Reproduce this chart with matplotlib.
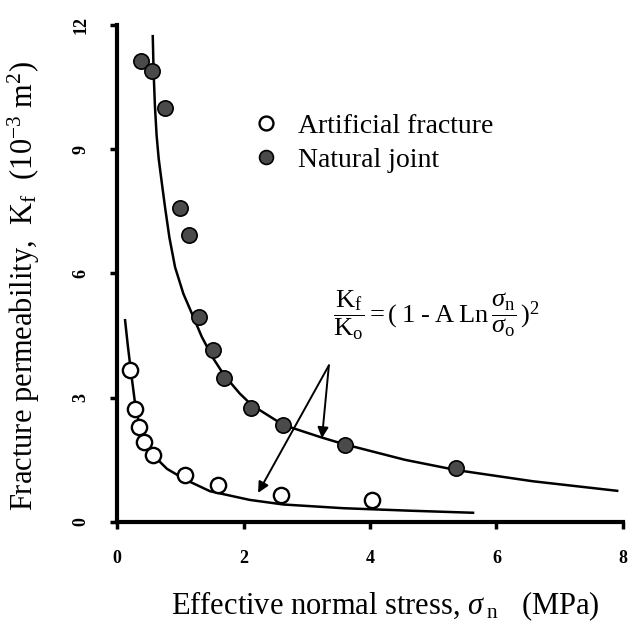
import numpy as np
import matplotlib
matplotlib.use('Agg')
from matplotlib import pyplot as plt
from matplotlib.lines import Line2D

plt.rcParams['font.family'] = ['Liberation Serif', 'DejaVu Serif']
plt.rcParams['mathtext.fontset'] = 'custom'
plt.rcParams['mathtext.rm'] = 'Liberation Serif'
plt.rcParams['mathtext.it'] = 'Liberation Serif:italic'

art_x = [0.21, 0.28, 0.35, 0.43, 0.57, 1.08, 1.60, 2.59, 4.03]
art_y = [3.66, 2.72, 2.29, 1.93, 1.61, 1.13, 0.89, 0.65, 0.53]

nat_x = [0.38, 0.55, 0.76, 1.00, 1.14, 1.30, 1.52, 1.69, 2.12, 2.62, 3.60, 5.36]
nat_y = [11.13, 10.89, 9.99, 7.57, 6.92, 4.96, 4.14, 3.47, 2.75, 2.34, 1.86, 1.30]

# fitted curves
art_fit_x = [0.126, 0.17, 0.22, 0.285, 0.36, 0.47, 0.57, 0.79, 1.08, 1.47, 2.10, 2.63, 3.58, 4.63, 5.63]
art_fit_y = [4.87, 4.25, 3.62, 2.85, 2.28, 1.88, 1.61, 1.28, 1.02, 0.74, 0.53, 0.42, 0.33, 0.27, 0.22]

nat_fit_x = [0.564, 0.577, 0.598, 0.625, 0.658, 0.707, 0.759, 0.827, 0.917, 1.048, 1.206, 1.339, 1.52, 1.69,
             1.94, 2.13, 2.63, 3.21, 3.58, 4.55, 5.37, 6.58, 7.91]
nat_fit_y = [11.73, 10.89, 10.05, 9.33, 8.77, 8.19, 7.59, 6.87, 6.15, 5.51, 4.95, 4.47, 3.95, 3.55,
             3.10, 2.82, 2.34, 2.05, 1.88, 1.50, 1.25, 0.98, 0.75]

x_ticks = [0, 2, 4, 6, 8]
y_ticks = [0, 3, 6, 9, 12]

fig = plt.figure(figsize=(6.33, 6.25), dpi=100)
ax = fig.add_axes([0.185, 0.165, 0.799, 0.795])

ax.plot(nat_fit_x, nat_fit_y, color='black', lw=1.8, zorder=2, solid_joinstyle='round')
ax.plot(art_fit_x, art_fit_y, color='black', lw=1.8, zorder=2, solid_joinstyle='round')

ax.plot(nat_x, nat_y, 'o', ms=11, mfc='#4a4a4a', mec='black', mew=1.2, zorder=3)
ax.plot(art_x, art_y, 'o', ms=11, mfc='white', mec='black', mew=1.7, zorder=3)

# arrows from the equation to the two curves
ax.annotate('', xy=(2.23, 0.70), xytext=(3.35, 3.78),
            arrowprops=dict(arrowstyle='-|>', color='black', lw=1.4, mutation_scale=16,
                            shrinkA=0, shrinkB=0))
ax.annotate('', xy=(3.24, 2.02), xytext=(3.35, 3.78),
            arrowprops=dict(arrowstyle='-|>', color='black', lw=1.4, mutation_scale=16,
                            shrinkA=0, shrinkB=0))

ax.text(5.05, 5.0, r'$\dfrac{\mathrm{K_f}}{\mathrm{K_o}} = (\;1\;\text{-}\;\mathrm{A\;Ln}\,\dfrac{\sigma_{\mathrm{n}}}{\sigma_{\mathrm{o}}}\,)^2$',
        fontsize=19, ha='center', va='center')

handles = [Line2D([], [], ls='none', marker='o', ms=10, mfc='white', mec='black', mew=1.7),
           Line2D([], [], ls='none', marker='o', ms=10, mfc='#4a4a4a', mec='black', mew=1.2)]
ax.legend(handles, ['Artificial fracture', 'Natural joint'], loc='upper left',
          bbox_to_anchor=(0.218, 0.872), frameon=False, fontsize=20,
          handletextpad=0.65, labelspacing=0.3, handlelength=1.0)

ax.set_xlim(0, 8)
ax.set_ylim(0, 12)
ax.set_xticks(x_ticks)
ax.set_yticks(y_ticks)
ax.set_xticklabels([str(t) for t in x_ticks], fontsize=13, fontweight='bold')
ax.set_yticklabels([str(t) for t in y_ticks], fontsize=13, fontweight='bold', rotation=90, va='center')
ax.tick_params(axis='both', direction='out', length=5, width=2.5, pad=15)

for side in ['top', 'right']:
    ax.spines[side].set_visible(False)
for side in ['left', 'bottom']:
    ax.spines[side].set_linewidth(3)

ax.set_xlabel(r'Effective normal stress, $\sigma_{\;\mathrm{n}}$   (MPa)', fontsize=22)
ax.set_ylabel(r'Fracture permeability,  K$_{\mathrm{f}}$  (10$^{-3}$ m$^{2}$)', fontsize=22)
ax.xaxis.set_label_coords(0.53, -0.135)
ax.yaxis.set_label_coords(-0.148, 0.475)

fig.savefig('out.png', dpi=100)
